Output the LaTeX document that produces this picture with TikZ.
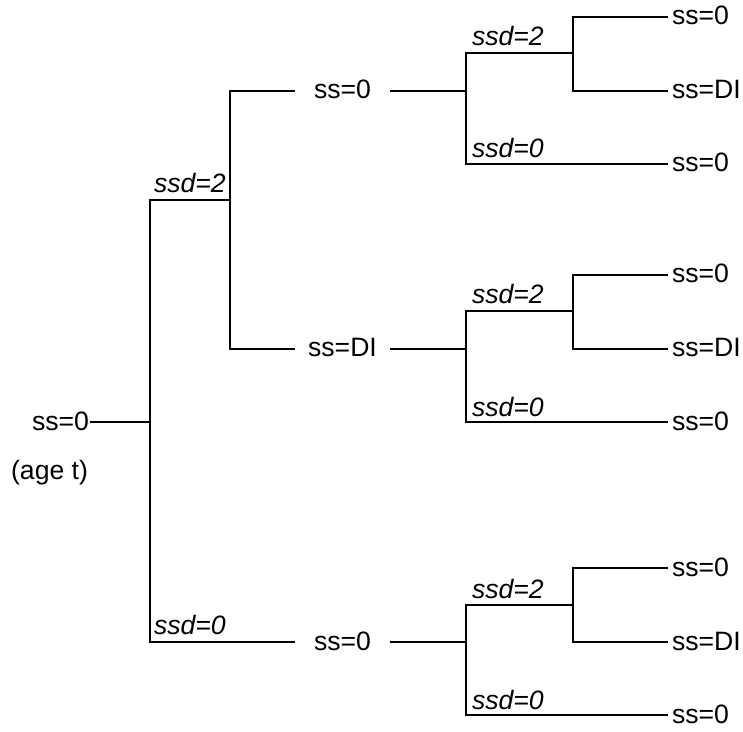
\documentclass[tikz,border=0pt]{standalone}
\usepackage{fontspec}
\setmainfont{Liberation Sans}
\usepackage{tikz}

\begin{document}
\begin{tikzpicture}[x=0.5pt, y=-0.5pt, line width=1pt,
        every node/.style={font=\fontsize{13.3}{16}\selectfont},
        state/.style={inner sep=0pt, text height=0.8em, text depth=0pt},
        mid/.style={state, minimum width=46.5pt},
        leaf/.style={state, anchor=west, inner sep=1.5pt},
        choice/.style={anchor=base west, inner sep=0pt, font=\fontsize{13.3}{16}\selectfont\itshape}]
    \useasboundingbox (0,0) rectangle (743,732);
    % root
    \node[state, anchor=east] (S0) at (90,422) {ss=0};
    \node[anchor=east, inner sep=0pt] (AGE) at (89,473) {(age t)};
    \coordinate (J0) at (150,422);
    \coordinate (J1) at (230,200);
    \node[choice] (C1) at (153,193) {ssd=2};
    \node[choice] (C2) at (153,634) {ssd=0};
    % second step
    \node[mid] (M1) at (342.5,91) {ss=0};
    \node[mid] (M2) at (342.5,349) {ss=DI};
    \node[mid] (M3) at (342.5,642) {ss=0};
    \draw (S0.east) -- (J0);
    \draw (J0) |- (J1);
    \draw (J0) |- (M3.west);
    \draw (M1.west) -| (J1);
    \draw (M2.west) -| (J1);
    % third step, top
    \coordinate (K1) at (466,91);
    \coordinate (P1) at (573,53);
    \node[leaf] (L11) at (668,17) {ss=0};
    \node[leaf] (L12) at (668,91) {ss=DI};
    \node[leaf] (L13) at (668,164) {ss=0};
    \node[choice] (C11) at (471,46) {ssd=2};
    \node[choice] (C12) at (471,158) {ssd=0};
    \draw (M1.east) -- (K1);
    \draw (K1) |- (P1);
    \draw (K1) |- (L13.west);
    \draw (L11.west) -| (P1);
    \draw (L12.west) -| (P1);
    % third step, middle
    \coordinate (K2) at (466,349);
    \coordinate (P2) at (573,311);
    \node[leaf] (L21) at (668,275) {ss=0};
    \node[leaf] (L22) at (668,349) {ss=DI};
    \node[leaf] (L23) at (668,422) {ss=0};
    \node[choice] (C21) at (471,304) {ssd=2};
    \node[choice] (C22) at (471,416) {ssd=0};
    \draw (M2.east) -- (K2);
    \draw (K2) |- (P2);
    \draw (K2) |- (L23.west);
    \draw (L21.west) -| (P2);
    \draw (L22.west) -| (P2);
    % third step, bottom
    \coordinate (K3) at (466,642);
    \coordinate (P3) at (573,605);
    \node[leaf] (L31) at (668,568) {ss=0};
    \node[leaf] (L32) at (668,642) {ss=DI};
    \node[leaf] (L33) at (668,715) {ss=0};
    \node[choice] (C31) at (471,598) {ssd=2};
    \node[choice] (C32) at (471,709) {ssd=0};
    \draw (M3.east) -- (K3);
    \draw (K3) |- (P3);
    \draw (K3) |- (L33.west);
    \draw (L31.west) -| (P3);
    \draw (L32.west) -| (P3);
\end{tikzpicture}
\end{document}
